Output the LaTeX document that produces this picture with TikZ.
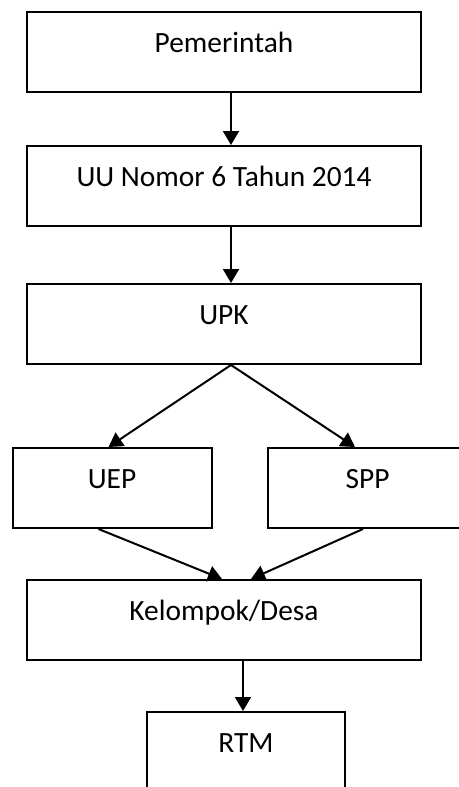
\documentclass[tikz,border=0pt]{standalone}
\usepackage{fontspec}
\setmainfont{Carlito}
\usetikzlibrary{arrows.meta,positioning}
\tikzset{
  box/.style={rectangle, draw=black, line width=1pt, inner sep=0pt,
              minimum width=#1, minimum height=40pt, text height=20pt, text depth=20pt,
              font=\fontsize{14.7}{17}\selectfont},
  box/.default=197pt,
  arr/.style={-{Triangle[length=7pt,width=8pt]}, line width=1pt, draw=black},
}
\begin{document}
\begin{tikzpicture}[x=0.5pt, y=-0.5pt]
    \useasboundingbox (0,0) rectangle (459,787);
    \node[box] (pem) at (224,52) {Pemerintah};
    \node[box, below=26pt of pem] (uu) {UU Nomor 6 Tahun 2014};
    \node[box, below=28pt of uu] (upk) {UPK};
    \node[box=99.5pt, below=41pt of upk.south, xshift=-56pt] (uep) {UEP};
    \node[box=99.5pt, below=41pt of upk.south, xshift=71.75pt] (spp) {SPP};
    \node[box, below=107pt of upk] (kel) {Kelompok/Desa};
    \node[box=99pt, below=25pt of kel, xshift=11pt] (rtm) {RTM};
    \draw[arr] ([xshift=3.5pt]pem.south) -- ([xshift=3.5pt]uu.north);
    \draw[arr] ([xshift=3.5pt]uu.south) -- ([xshift=3.5pt]upk.north);
    \draw[arr] ([xshift=3.5pt]upk.south) -- ([xshift=-1.75pt]uep.north);
    \draw[arr] ([xshift=3.5pt]upk.south) -- ([xshift=-6.25pt]spp.north);
    \draw[arr] ([xshift=-6.75pt]uep.south) -- ([xshift=-1pt]kel.north);
    \draw[arr] ([xshift=-2.25pt]spp.south) -- ([xshift=13.5pt]kel.north);
    \draw[arr] ([xshift=9.5pt]kel.south) -- ([xshift=-1.5pt]rtm.north);
  \end{tikzpicture}
\end{document}
